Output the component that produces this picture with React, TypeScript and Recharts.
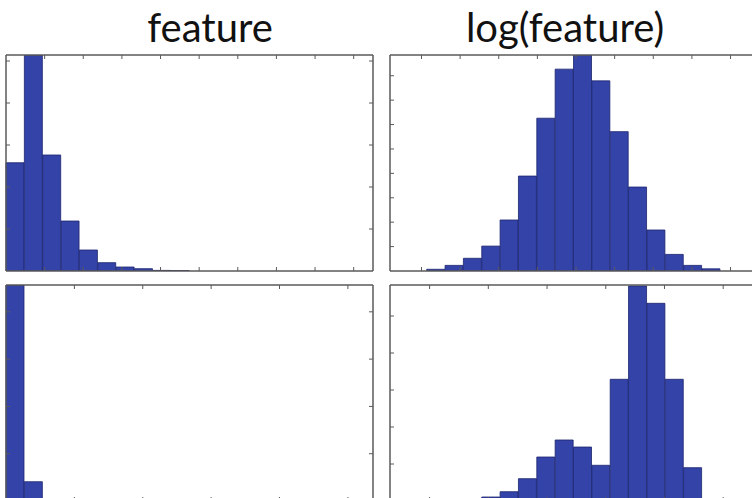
import { BarChart, Bar, XAxis, YAxis } from "recharts";

// 20 bins per panel, heights
const featureTop = [2578, 5143, 2762, 1190, 500, 198, 95, 55, 14, 10, 0, 0, 0, 0, 0, 0, 0, 0, 0, 0];
const logFeatureTop = [0, 0, 7, 23, 52, 102, 209, 389, 626, 827, 885, 779, 571, 344, 168, 68, 23, 9, 0, 0];
const featureBottom = [4567, 408, 42, 0, 0, 0, 0, 0, 0, 0, 0, 0, 0, 0, 0, 0, 0, 0, 0, 0];
const logFeatureBottom = [0, 0, 0, 0, 0, 108, 251, 603, 1189, 1649, 1459, 965, 3289, 5811, 5343, 3289, 900, 40, 0, 0];

// tick positions, in bin units along x
const featureTopXTicks = [2, 4, 6, 8, 10, 12, 14, 16, 18];
const logTopXTicks = [1.63, 3.63, 5.63, 7.63, 9.63, 11.63, 13.63, 15.63, 17.63, 19.63];
const featureBottomXTicks = [3.54, 7.08, 10.62, 14.16, 17.7];
const logBottomXTicks = [2.05, 5.09, 8.13, 11.17, 14.21, 17.25];

const featureTopYTicks = [1000, 2000, 3000, 4000, 5000];
const logTopYTicks = [100, 200, 300, 400, 500, 600, 700, 800];
const featureBottomYTicks = [1000, 2000, 3000, 4000];
const logBottomYTicks = [1000, 2000, 3000, 4000, 5000];

const titles = ["feature", "log(feature)"];

const FRAME = "#5a5a5a";
const BAR_FILL = "#3443a8";
const BAR_EDGE = "#1c246e";

interface PanelProps {
  values: number[];
  xTicks: number[];
  yTicks: number[];
  yMax: number;
  left: number;
  top: number;
}

function Panel({ values, xTicks, yTicks, yMax, left, top }: PanelProps) {
  const data = values.map((v, i) => ({ bin: i, count: v }));
  const pad = 2;
  const w = 367;
  const h = 216;
  const axisCommon = {
    axisLine: { stroke: FRAME, strokeWidth: 1.5 },
    tickLine: { stroke: FRAME, strokeWidth: 1 },
    tickSize: 4,
    mirror: true,
    tickFormatter: () => "",
    allowDataOverflow: true,
  };
  return (
    <div style={{ position: "absolute", left: left - pad, top: top - pad }}>
      <BarChart
        width={w + pad * 2}
        height={h + pad * 2}
        data={data}
        barCategoryGap={0}
        barGap={0}
        margin={{ top: pad, right: pad, bottom: pad, left: pad }}
      >
        <XAxis xAxisId="bins" dataKey="bin" type="category" hide />
        <XAxis
          xAxisId="bottom"
          type="number"
          orientation="bottom"
          domain={[0, 20]}
          ticks={xTicks}
          height={1}
          {...axisCommon}
        />
        <XAxis
          xAxisId="top"
          type="number"
          orientation="top"
          domain={[0, 20]}
          ticks={xTicks}
          height={1}
          {...axisCommon}
        />
        <YAxis
          yAxisId="left"
          type="number"
          domain={[0, yMax]}
          ticks={yTicks}
          width={1}
          {...axisCommon}
        />
        <YAxis
          yAxisId="right"
          orientation="right"
          type="number"
          domain={[0, yMax]}
          ticks={yTicks}
          width={1}
          {...axisCommon}
        />
        <Bar
          xAxisId="bins"
          yAxisId="left"
          dataKey="count"
          fill={BAR_FILL}
          stroke={BAR_EDGE}
          strokeWidth={0.8}
          isAnimationActive={false}
        />
      </BarChart>
    </div>
  );
}

export default function App() {
  return (
    <div
      style={{
        position: "fixed",
        left: 0,
        top: 0,
        width: 752,
        height: 498,
        overflow: "hidden",
        background: "#ffffff",
      }}
    >
      <Panel values={featureTop} xTicks={featureTopXTicks} yTicks={featureTopYTicks} yMax={5143} left={6} top={55} />
      <Panel values={logFeatureTop} xTicks={logTopXTicks} yTicks={logTopYTicks} yMax={885} left={390} top={55} />
      <Panel values={featureBottom} xTicks={featureBottomXTicks} yTicks={featureBottomYTicks} yMax={4567} left={6} top={285} />
      <Panel values={logFeatureBottom} xTicks={logBottomXTicks} yTicks={logBottomYTicks} yMax={5838} left={390} top={285} />
      <svg width={752} height={60} style={{ position: "absolute", left: 0, top: 0 }}>
        <text x={210} y={42} textAnchor="middle" fontFamily="Lato" fontSize={40} fill="#111">
          {titles[0]}
        </text>
        <text x={565} y={42} textAnchor="middle" fontFamily="Lato" fontSize={40} fill="#111">
          {titles[1]}
        </text>
      </svg>
    </div>
  );
}
